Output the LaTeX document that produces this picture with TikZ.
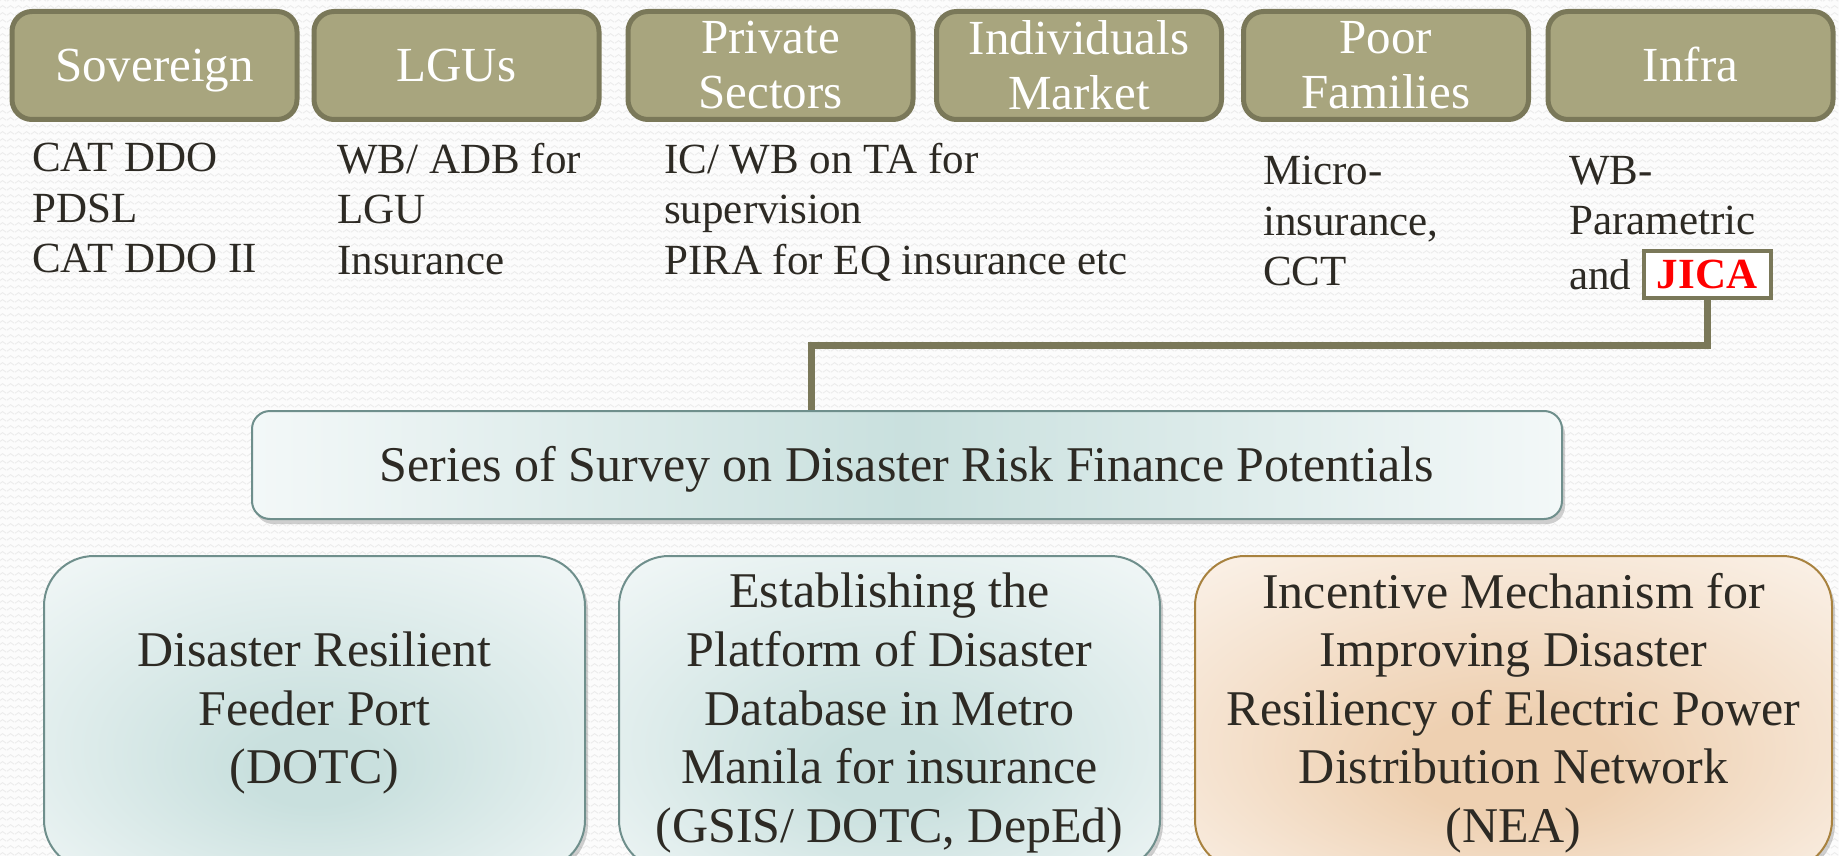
\documentclass[tikz,border=0pt]{standalone}
\usepackage{fontspec}
\setmainfont{Liberation Serif}
\usetikzlibrary{shadows,patterns}
\definecolor{bgpaper}{HTML}{FCFCFC}
\definecolor{bgwave}{HTML}{ECECEC}
\definecolor{khaki}{HTML}{A8A57E}
\definecolor{khakiedge}{HTML}{7A7859}
\definecolor{ink}{HTML}{2D2A24}
\definecolor{tealedge}{HTML}{6F8F8C}
\definecolor{tealmid}{HTML}{C9E0DE}
\definecolor{teallight}{HTML}{F3F8F8}
\definecolor{peachmid}{HTML}{EED0B1}
\definecolor{peachlight}{HTML}{FCF5EE}
\definecolor{peachedge}{HTML}{A8823F}
\definecolor{jicared}{HTML}{FF0000}

% faint zig-zag paper texture
\pgfdeclarepatternformonly{paperwave}{\pgfpointorigin}{\pgfpoint{8bp}{7bp}}{\pgfpoint{8bp}{7bp}}{
  \pgfsetlinewidth{1bp}
  \pgfpathmoveto{\pgfpoint{0bp}{2bp}}
  \pgfpathlineto{\pgfpoint{4bp}{5bp}}
  \pgfpathlineto{\pgfpoint{8bp}{2bp}}
  \pgfusepath{stroke}}

% broad soft glows for the project boxes
\pgfdeclareradialshading{tealglow}{\pgfpoint{0bp}{-10bp}}{
  color(0bp)=(tealmid); color(6bp)=(tealmid); color(38bp)=(teallight); color(50bp)=(teallight)}
\pgfdeclareradialshading{peachglow}{\pgfpoint{0bp}{-10bp}}{
  color(0bp)=(peachmid); color(8bp)=(peachmid); color(40bp)=(peachlight); color(50bp)=(peachlight)}

\begin{document}
\begin{tikzpicture}[x=1pt,y=-1pt,
  sector/.style={draw=khakiedge, line width=5, fill=khaki, rounded corners=20,
    minimum width=285, minimum height=108, inner sep=0, text=white,
    align=center, font=\fontsize{49}{55}\selectfont},
  oneline/.style={text height=32pt, text depth=0pt},
  notes/.style={anchor=north west, inner sep=0, align=left, text=ink,
    font=\fontsize{43}{50.5}\selectfont},
  conn/.style={draw=khakiedge, line width=7, line join=miter},
  survey/.style={draw=tealedge, line width=2, rounded corners=18,
    left color=teallight, right color=teallight, middle color=tealmid,
    minimum width=1310, minimum height=108, inner sep=0, text=ink,
    text height=33pt, text depth=0pt,
    font=\fontsize{50}{58}\selectfont,
    drop shadow={shadow xshift=3pt, shadow yshift=-5pt, opacity=0.3, fill=black!60}},
  project/.style={draw=tealedge, line width=2, rounded corners=50,
    shading=tealglow, minimum height=314, inner sep=0, text=ink, align=center,
    font=\fontsize{50}{58.6}\selectfont,
    drop shadow={shadow xshift=3pt, shadow yshift=-4pt, opacity=0.3, fill=black!60}},
  warmproject/.style={project, draw=peachedge, shading=peachglow}
]
% page and paper background
\useasboundingbox (0,0) rectangle (1839,856);
\fill[bgpaper] (0,0) rectangle (1839,856);
\fill[pattern=paperwave, pattern color=bgwave] (0,0) rectangle (1839,856);

% sector headers
\node[sector, oneline] (sov)   at (154.5,65.5) {Sovereign};
\node[sector, oneline] (lgu)   at (456.5,65.5) {LGUs};
\node[sector] (priv)  at (770.5,65.5) {Private\\Sectors};
\node[sector] (indiv) at (1079,65.5)  {Individuals\\Market};
\node[sector] (poor)  at (1386,65.5)  {Poor\\Families};
\node[sector, oneline] (infra) at (1690.5,65.5) {Infra};

% instruments under each sector
\node[notes] (sovnotes)  at (32,143)  {CAT DDO\\PDSL\\CAT DDO II};
\node[notes] (lgunotes)  at (337,143) {WB/ ADB for\\LGU\\Insurance};
\node[notes] (privnotes) at (664,143) {IC/ WB on TA for\\supervision\\PIRA for EQ insurance etc};
\node[notes] (poornotes) at (1263,156) {Micro-\\insurance,\\CCT};
\node[notes] (infranotes) at (1569,156) {WB-\\Parametric\\[4pt]and};

% highlighted JICA label
\node[draw=khakiedge, line width=4, fill=white, minimum width=127, minimum height=47,
      inner sep=0, text=jicared, font=\bfseries\fontsize{43}{50}\selectfont]
      (jica) at (1707,274) {JICA};

% survey banner and link from JICA
\node[survey] (series) at (907,465) {Series of Survey on Disaster Risk Finance Potentials};
\coordinate (turn) at (811,345.5);
\draw[conn] (jica.south) |- (turn) -- (series.north -| turn);

% project boxes
\node[project, minimum width=541] (port) at (314.5,713)
  {Disaster Resilient\\Feeder Port\\(DOTC)};
\node[project, minimum width=541] (platform) at (889.5,713)
  {Establishing the\\Platform of Disaster\\Database in Metro\\Manila for insurance\\(GSIS/ DOTC, DepEd)};
\node[warmproject, minimum width=637] (power) at (1513.5,713)
  {Incentive Mechanism for\\Improving Disaster\\Resiliency of Electric Power\\Distribution Network\\(NEA)};
\end{tikzpicture}
\end{document}
